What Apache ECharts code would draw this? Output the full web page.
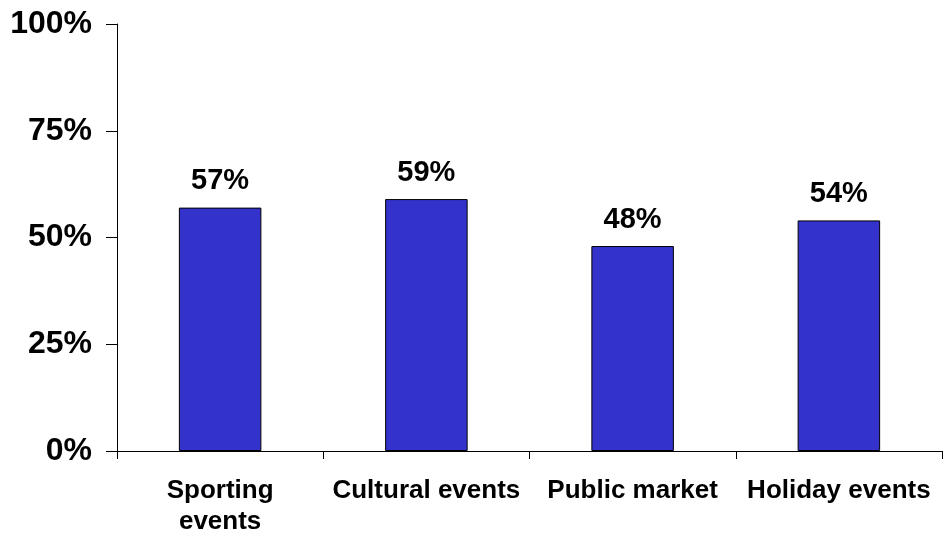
<!DOCTYPE html>
<html>
<head>
<meta charset="utf-8">
<script src="https://cdn.jsdelivr.net/npm/echarts@6/dist/echarts.min.js"></script>
<style>
  html, body { margin: 0; padding: 0; background: #fff; }
  #chart { width: 943px; height: 537px; }
</style>
</head>
<body>
<div id="chart"></div>
<script>
// Share of respondents by event type
var categories = ['Sporting\nevents', 'Cultural events', 'Public market', 'Holiday events'];
var shares = [57, 59, 48, 54];
var yTicks = [0, 25, 50, 75, 100];

var FONT = '"Liberation Sans", Arial, sans-serif';
var chart = echarts.init(document.getElementById('chart'), null, { renderer: 'canvas' });

chart.setOption({
  animation: false,
  backgroundColor: '#ffffff',
  grid: { left: 117, right: 1, top: 24, bottom: 85, containLabel: false },
  xAxis: {
    type: 'category',
    data: categories,
    axisLine: { show: true, lineStyle: { color: '#000', width: 1 } },
    axisTick: { show: true, length: 8, lineStyle: { color: '#000' } },
    axisLabel: {
      interval: 0,
      margin: 24,
      color: '#000',
      fontFamily: FONT,
      fontWeight: 'bold',
      fontSize: 26,
      lineHeight: 31
    }
  },
  yAxis: {
    type: 'value',
    min: yTicks[0],
    max: yTicks[yTicks.length - 1],
    interval: 25,
    splitLine: { show: false },
    axisLine: { show: true, lineStyle: { color: '#000', width: 1 } },
    axisTick: { show: true, length: 11, lineStyle: { color: '#000' } },
    axisLabel: {
      margin: 25,
      color: '#000',
      fontFamily: FONT,
      fontWeight: 'bold',
      fontSize: 32,
      formatter: '{value}%'
    }
  },
  series: [{
    type: 'bar',
    data: shares,
    barWidth: '40%',
    itemStyle: { color: '#3333CC', borderColor: '#000', borderWidth: 1 },
    label: {
      show: true,
      position: 'top',
      distance: 12,
      color: '#000',
      fontFamily: FONT,
      fontWeight: 'bold',
      fontSize: 29,
      formatter: '{c}%'
    }
  }]
});
</script>
</body>
</html>
